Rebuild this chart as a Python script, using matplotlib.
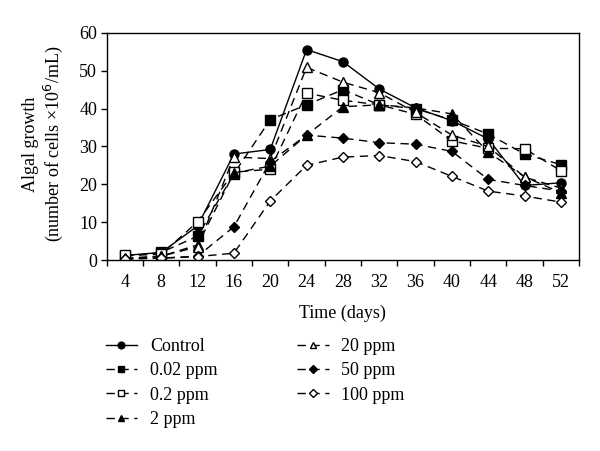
import matplotlib
matplotlib.use("Agg")
import matplotlib.pyplot as plt

plt.rcParams['font.family'] = ['Liberation Serif', 'DejaVu Serif']

days = [4, 8, 12, 16, 20, 24, 28, 32, 36, 40, 44, 48, 52]

control = [1.2, 2.0, 9.0, 28.0, 29.2, 55.6, 52.4, 45.2, 40.2, 36.8, 32.0, 19.7, 20.4]
ppm_002 = [1.0, 2.0, 6.3, 22.8, 37.1, 41.0, 45.0, 41.0, 40.0, 37.0, 33.3, 28.0, 25.2]
ppm_02 = [1.2, 1.5, 10.1, 23.2, 24.0, 44.1, 42.2, 41.0, 38.5, 31.5, 29.5, 29.4, 23.6]
ppm_2 = [0.5, 1.0, 4.0, 23.0, 24.8, 33.0, 40.5, 41.0, 40.2, 38.6, 28.5, 22.0, 17.8]
ppm_20 = [0.3, 1.0, 3.5, 27.2, 26.8, 50.9, 47.0, 44.2, 39.0, 33.0, 30.0, 21.9, 19.0]
ppm_50 = [0.3, 0.5, 1.0, 8.8, 26.0, 33.0, 32.2, 31.0, 30.6, 28.7, 21.3, 19.7, 18.2]
ppm_100 = [0.3, 0.5, 0.9, 1.8, 15.6, 25.0, 27.2, 27.6, 26.0, 22.1, 18.2, 16.9, 15.3]

labels = ['Control', '0.02 ppm', '0.2 ppm', '2 ppm', '20 ppm', '50 ppm', '100 ppm']
series = [control, ppm_002, ppm_02, ppm_2, ppm_20, ppm_50, ppm_100]
markers = ['o', 's', 's', '^', '^', 'D', 'D']
filled = [True, True, False, True, False, True, False]

fs = 13

fig = plt.figure(figsize=(6, 4.51), dpi=100)
ax = fig.add_axes([0.178, 0.4235, 0.787, 0.5035])

for i, (vals, lab, mk, fl) in enumerate(zip(series, labels, markers, filled)):
    ls = '-' if i == 0 else (0, (6, 4))
    ms = 5.5 if mk == 'D' else 6.5
    ax.plot(days, vals, linestyle=ls, color='black', linewidth=1.0,
            marker=mk, markersize=ms, markeredgecolor='black',
            markerfacecolor='black' if fl else 'white', markeredgewidth=1.0,
            label=lab)

ax.set_xlim(2, 54)
ax.set_ylim(0, 60)
ax.set_xticks(days)
ax.set_xticklabels([str(d) for d in days])
ax.set_xticks([2 + 4 * k for k in range(14)], minor=True)
ax.tick_params(axis='x', which='major', length=0, labelsize=fs, pad=10)
ax.tick_params(axis='x', which='minor', length=4, direction='out', width=1)
ax.set_yticks(range(0, 61, 10))
ax.tick_params(axis='y', length=4, direction='out', width=1, labelsize=fs, pad=3)
for s in ax.spines.values():
    s.set_linewidth(1.0)

ax.set_xlabel('Time (days)', fontsize=fs, labelpad=10)
ax.set_ylabel('Algal growth\n(number of cells \u00d710$^6$/mL)', fontsize=fs)
ax.yaxis.set_label_coords(-0.088, 0.51)

fig.legend(loc='upper left', bbox_to_anchor=(0.176, 0.250), ncol=2, frameon=False,
           fontsize=fs, handlelength=1.75, handletextpad=0.7, columnspacing=4.4,
           labelspacing=0.4, markerscale=0.75, borderaxespad=0, borderpad=0)

fig.savefig('out.png', dpi=100)
